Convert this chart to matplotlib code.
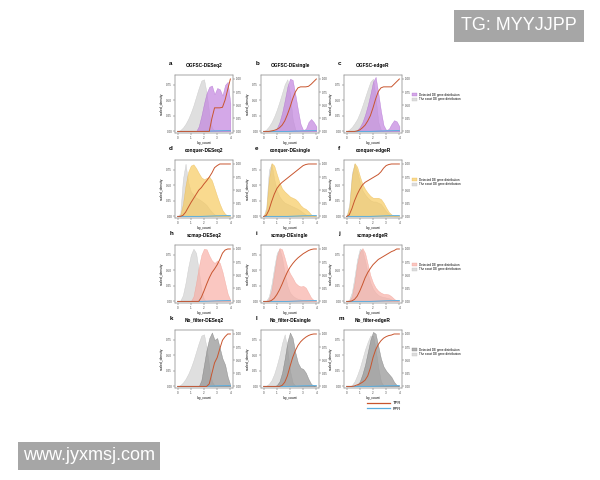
import matplotlib
matplotlib.use("Agg")
import matplotlib.pyplot as plt
from matplotlib.patches import Patch
from matplotlib.lines import Line2D

plt.rcParams["font.family"] = ["Liberation Sans", "DejaVu Sans"]

# common log_count grid
log_count = [0.0, 0.5, 1.0, 1.5, 2.0, 2.5, 3.0, 3.5, 4.0, 4.5, 5.0,
             5.5, 6.0, 6.5, 7.0, 7.5, 8.0, 8.5, 9.0, 9.5, 10.0]

# OGFSC
a_exact = [0, 0.02, 0.06, 0.12, 0.2, 0.3, 0.42, 0.56, 0.7, 0.82, 0.84, 0.62, 0.28, 0.06, 0.01, 0, 0, 0, 0, 0, 0]
a_detected = [0, 0, 0, 0, 0, 0, 0, 0, 0.08, 0.25, 0.45, 0.62, 0.72, 0.74, 0.6, 0.7, 0.68, 0.58, 0.75, 0.8, 0.45]
a_tpr = [0, 0, 0, 0, 0, 0, 0, 0, 0, 0, 0, 0, 0, 0.25, 0.45, 0.45, 0.45, 0.46, 0.6, 0.8, 1.0]

b_exact = [0, 0.03, 0.08, 0.15, 0.24, 0.35, 0.48, 0.62, 0.76, 0.84, 0.6, 0.2, 0.03, 0, 0, 0, 0, 0, 0, 0, 0]
b_detected = [0, 0, 0, 0, 0, 0.05, 0.15, 0.3, 0.5, 0.72, 0.85, 0.83, 0.6, 0.35, 0.12, 0.02, 0.04, 0.15, 0.2, 0.15, 0.08]
b_tpr = [0, 0, 0, 0.01, 0.02, 0.04, 0.07, 0.12, 0.2, 0.32, 0.46, 0.62, 0.75, 0.83, 0.85, 0.85, 0.85, 0.86, 0.9, 0.95, 1.0]

c_exact = [0, 0.03, 0.07, 0.13, 0.2, 0.3, 0.42, 0.55, 0.68, 0.8, 0.85, 0.55, 0.15, 0.02, 0, 0, 0, 0, 0, 0, 0]
c_detected = [0, 0, 0, 0, 0.02, 0.07, 0.15, 0.27, 0.42, 0.6, 0.8, 0.88, 0.62, 0.33, 0.1, 0.02, 0.04, 0.12, 0.18, 0.16, 0.08]
c_tpr = [0, 0, 0, 0, 0.01, 0.03, 0.07, 0.12, 0.2, 0.3, 0.45, 0.62, 0.76, 0.83, 0.85, 0.85, 0.85, 0.85, 0.9, 0.95, 1.0]

# conquer
d_exact = [0, 0.05, 0.6, 0.85, 0.55, 0.4, 0.35, 0.3, 0.28, 0.25, 0.22, 0.18, 0.12, 0.07, 0.03, 0.01, 0, 0, 0, 0, 0]
d_detected = [0, 0.02, 0.2, 0.5, 0.72, 0.82, 0.84, 0.78, 0.7, 0.63, 0.6, 0.62, 0.64, 0.58, 0.45, 0.32, 0.2, 0.1, 0.04, 0.01, 0]
d_tpr = [0, 0, 0.02, 0.08, 0.17, 0.26, 0.34, 0.42, 0.5, 0.55, 0.62, 0.68, 0.75, 0.83, 0.93, 0.97, 1.0, 1.0, 1.0, 1.0, 1.0]

e_exact = [0, 0.15, 0.75, 0.85, 0.6, 0.42, 0.32, 0.26, 0.22, 0.2, 0.18, 0.16, 0.14, 0.12, 0.09, 0.06, 0.03, 0.01, 0, 0, 0]
e_detected = [0, 0.1, 0.6, 0.86, 0.82, 0.68, 0.55, 0.45, 0.4, 0.36, 0.32, 0.3, 0.28, 0.24, 0.18, 0.14, 0.12, 0.08, 0.03, 0.01, 0]
e_tpr = [0, 0.02, 0.12, 0.28, 0.42, 0.53, 0.6, 0.65, 0.69, 0.73, 0.77, 0.81, 0.85, 0.89, 0.93, 0.97, 0.99, 1.0, 1.0, 1.0, 1.0]

f_exact = [0, 0.2, 0.7, 0.85, 0.72, 0.55, 0.42, 0.35, 0.3, 0.26, 0.24, 0.24, 0.22, 0.2, 0.14, 0.08, 0.04, 0.01, 0, 0, 0]
f_detected = [0, 0.15, 0.65, 0.86, 0.8, 0.65, 0.52, 0.44, 0.38, 0.33, 0.3, 0.3, 0.3, 0.28, 0.22, 0.14, 0.07, 0.03, 0.01, 0, 0]
f_tpr = [0, 0.03, 0.15, 0.3, 0.42, 0.52, 0.6, 0.65, 0.68, 0.71, 0.74, 0.77, 0.8, 0.85, 0.92, 0.97, 0.99, 1.0, 1.0, 1.0, 1.0]

# scmap
h_exact = [0, 0.01, 0.1, 0.3, 0.55, 0.75, 0.85, 0.78, 0.5, 0.18, 0.03, 0, 0, 0, 0, 0, 0, 0, 0, 0, 0]
h_detected = [0, 0, 0, 0, 0, 0, 0.08, 0.3, 0.55, 0.75, 0.85, 0.84, 0.74, 0.66, 0.62, 0.66, 0.62, 0.48, 0.3, 0.12, 0.02]
h_tpr = [0, 0, 0, 0, 0, 0, 0, 0, 0, 0.08, 0.2, 0.33, 0.45, 0.55, 0.62, 0.7, 0.8, 0.92, 0.98, 1.0, 1.0]

i_exact = [0, 0.01, 0.08, 0.28, 0.55, 0.78, 0.85, 0.7, 0.45, 0.25, 0.14, 0.09, 0.06, 0.04, 0.03, 0.02, 0.01, 0, 0, 0, 0]
i_detected = [0, 0, 0.04, 0.18, 0.45, 0.72, 0.86, 0.84, 0.7, 0.55, 0.45, 0.38, 0.3, 0.26, 0.24, 0.25, 0.22, 0.14, 0.06, 0.02, 0]
i_tpr = [0, 0, 0, 0.02, 0.06, 0.13, 0.22, 0.33, 0.45, 0.56, 0.65, 0.72, 0.78, 0.83, 0.87, 0.91, 0.94, 0.97, 0.99, 1.0, 1.0]

j_exact = [0, 0.03, 0.15, 0.4, 0.68, 0.85, 0.82, 0.65, 0.45, 0.3, 0.2, 0.14, 0.1, 0.08, 0.07, 0.06, 0.05, 0.03, 0.01, 0, 0]
j_detected = [0, 0.01, 0.08, 0.3, 0.6, 0.8, 0.86, 0.78, 0.6, 0.42, 0.3, 0.22, 0.17, 0.14, 0.12, 0.12, 0.11, 0.08, 0.04, 0.01, 0]
j_tpr = [0, 0, 0.01, 0.04, 0.1, 0.2, 0.32, 0.45, 0.55, 0.63, 0.7, 0.75, 0.8, 0.83, 0.86, 0.89, 0.92, 0.95, 0.97, 1.0, 1.0]

# No_filter
k_exact = [0, 0.02, 0.06, 0.12, 0.2, 0.3, 0.42, 0.56, 0.7, 0.82, 0.84, 0.62, 0.3, 0.08, 0.01, 0, 0, 0, 0, 0, 0]
k_detected = [0, 0, 0, 0, 0, 0, 0, 0, 0, 0.1, 0.35, 0.6, 0.78, 0.87, 0.75, 0.78, 0.62, 0.45, 0.35, 0.15, 0.02]
k_tpr = [0, 0, 0, 0, 0, 0, 0, 0, 0, 0, 0, 0, 0.05, 0.25, 0.45, 0.55, 0.72, 0.88, 0.95, 1.0, 1.0]

l_exact = [0, 0.01, 0.04, 0.1, 0.2, 0.34, 0.5, 0.7, 0.84, 0.6, 0.25, 0.06, 0.01, 0, 0, 0, 0, 0, 0, 0, 0]
l_detected = [0, 0, 0, 0, 0, 0.02, 0.08, 0.22, 0.45, 0.72, 0.87, 0.78, 0.55, 0.38, 0.3, 0.28, 0.22, 0.12, 0.04, 0.01, 0]
l_tpr = [0, 0, 0, 0, 0, 0, 0, 0.02, 0.08, 0.2, 0.38, 0.55, 0.68, 0.78, 0.85, 0.9, 0.94, 0.97, 0.99, 1.0, 1.0]

m_exact = [0, 0, 0.02, 0.08, 0.18, 0.3, 0.45, 0.6, 0.72, 0.82, 0.82, 0.6, 0.3, 0.08, 0.01, 0, 0, 0, 0, 0, 0]
m_detected = [0, 0, 0, 0, 0.02, 0.08, 0.2, 0.35, 0.55, 0.75, 0.88, 0.85, 0.65, 0.45, 0.32, 0.25, 0.2, 0.15, 0.07, 0.02, 0]
m_tpr = [0, 0, 0, 0.01, 0.03, 0.05, 0.08, 0.12, 0.2, 0.35, 0.55, 0.7, 0.8, 0.87, 0.92, 0.95, 0.97, 0.98, 1.0, 1.0, 1.0]

fpr_curve = [0, 0, 0, 0, 0, 0, 0, 0, 0, 0, 0.002, 0.004, 0.006, 0.008, 0.01, 0.012, 0.013, 0.014, 0.015, 0.016, 0.016]

panel_letters = ["a", "b", "c", "d", "e", "f", "h", "i", "j", "k", "l", "m"]
panel_titles = ["OGFSC-DESeq2", "OGFSC-DEsingle", "OGFSC-edgeR",
                "conquer-DESeq2", "conquer-DEsingle", "conquer-edgeR",
                "scmap-DESeq2", "scmap-DEsingle", "scmap-edgeR",
                "No_filter-DESeq2", "No_filter-DEsingle", "No_filter-edgeR"]
exact_series = [a_exact, b_exact, c_exact, d_exact, e_exact, f_exact,
                h_exact, i_exact, j_exact, k_exact, l_exact, m_exact]
detected_series = [a_detected, b_detected, c_detected, d_detected, e_detected, f_detected,
                   h_detected, i_detected, j_detected, k_detected, l_detected, m_detected]
tpr_series = [a_tpr, b_tpr, c_tpr, d_tpr, e_tpr, f_tpr,
              h_tpr, i_tpr, j_tpr, k_tpr, l_tpr, m_tpr]

method_colors = ["#c07fde", "#f7c95a", "#f8ada4", "#8e8e8e"]
method_edges = ["#a45cc8", "#e6b040", "#f09488", "#6a6a6a"]
exact_color = "#dcdcdc"
exact_edge = "#c6c6c6"
tpr_color = "#c8552e"
fpr_color = "#5aaee0"

left_ticks = [0.0, 0.25, 0.5, 0.75]
right_ticks = [0.0, 0.25, 0.5, 0.75, 1.0]
x_ticks = [0, 2.5, 5, 7.5, 10]

W, H = 600, 480
fig = plt.figure(figsize=(6, 4.8), dpi=100)

col_left = [175, 261, 344]
row_top = [75, 160, 245, 330]
ax_w, ax_h = 58, 58

for idx in range(12):
    r, c = divmod(idx, 3)
    x0 = col_left[c]
    y0 = row_top[r]
    ax = fig.add_axes([x0 / W, 1 - (y0 + ax_h) / H, ax_w / W, ax_h / H])
    col = method_colors[r]
    edge = method_edges[r]

    ax.fill_between(log_count, exact_series[idx], color=exact_color, alpha=0.9,
                    edgecolor=exact_edge, linewidth=0.3, zorder=1)
    ax.fill_between(log_count, detected_series[idx], color=col, alpha=0.68,
                    edgecolor=edge, linewidth=0.3, zorder=2)
    ax.set_xlim(-0.5, 10.5)
    ax.set_ylim(-0.027, 0.91)
    ax.set_yticks(left_ticks)
    ax.set_yticklabels([f"{t:.2f}" for t in left_ticks])
    ax.set_xticks(x_ticks)
    ax.set_xticklabels(["0", "1", "2", "3", "4"])
    ax.tick_params(labelsize=2.2, length=1.2, width=0.3, pad=0.8, colors="#444444")
    ax.set_ylabel("scaled_density", fontsize=2.4, labelpad=1.5)
    ax.set_xlabel("log_count", fontsize=2.4, labelpad=1)
    for sp in ax.spines.values():
        sp.set_linewidth(0.35)
        sp.set_color("#9a9a9a")
    ax.set_title(panel_titles[idx], fontsize=3.4, fontweight="bold", pad=5.5)
    ax.text(-0.1, 1.15, panel_letters[idx], transform=ax.transAxes,
            fontsize=4.5, fontweight="bold", ha="left", va="bottom")

    ax2 = ax.twinx()
    ax2.plot(log_count, fpr_curve, color=fpr_color, linewidth=0.7, zorder=3)
    ax2.plot(log_count, tpr_series[idx], color=tpr_color, linewidth=0.7, zorder=4)
    ax2.set_ylim(-0.03, 1.076)
    ax2.set_yticks(right_ticks)
    ax2.set_yticklabels([f"{t:.2f}" for t in right_ticks])
    ax2.tick_params(labelsize=2.2, length=1.2, width=0.3, pad=0.8, colors="#444444")
    for sp in ax2.spines.values():
        sp.set_linewidth(0.35)
        sp.set_color("#9a9a9a")

    if c == 2:
        handles = [Patch(facecolor=col, edgecolor=edge, alpha=0.68, linewidth=0.3),
                   Patch(facecolor=exact_color, edgecolor=exact_edge, linewidth=0.3)]
        ax.legend(handles, ["Detected DE gene distribution", "The exact DE gene distribution"],
                  loc="center left", bbox_to_anchor=(1.15, 0.62), frameon=False,
                  fontsize=2.2, handlelength=1.6, handleheight=1.4, borderaxespad=0,
                  labelspacing=0.3)

# shared TPR / FPR key
line_handles = [Line2D([0], [0], color=tpr_color, linewidth=0.9),
                Line2D([0], [0], color=fpr_color, linewidth=0.9)]
fig.legend(line_handles, ["TPR", "FPR"], loc="center left",
           bbox_to_anchor=(365 / W, 1 - 406 / H), frameon=False, fontsize=3,
           handlelength=5.5, labelspacing=0.4, borderaxespad=0)

# site tags
fig.text(519 / W, 1 - 26 / H, "TG: MYYJJPP", fontsize=13, color="white",
         ha="center", va="center",
         bbox=dict(boxstyle="square,pad=0.4", facecolor="#a6a6a6", edgecolor="none"))
fig.text(89 / W, 1 - 456 / H, "www.jyxmsj.com", fontsize=13, color="white",
         ha="center", va="center",
         bbox=dict(boxstyle="square,pad=0.3", facecolor="#a6a6a6", edgecolor="none"))

fig.savefig("out.png", dpi=100, facecolor="white")
